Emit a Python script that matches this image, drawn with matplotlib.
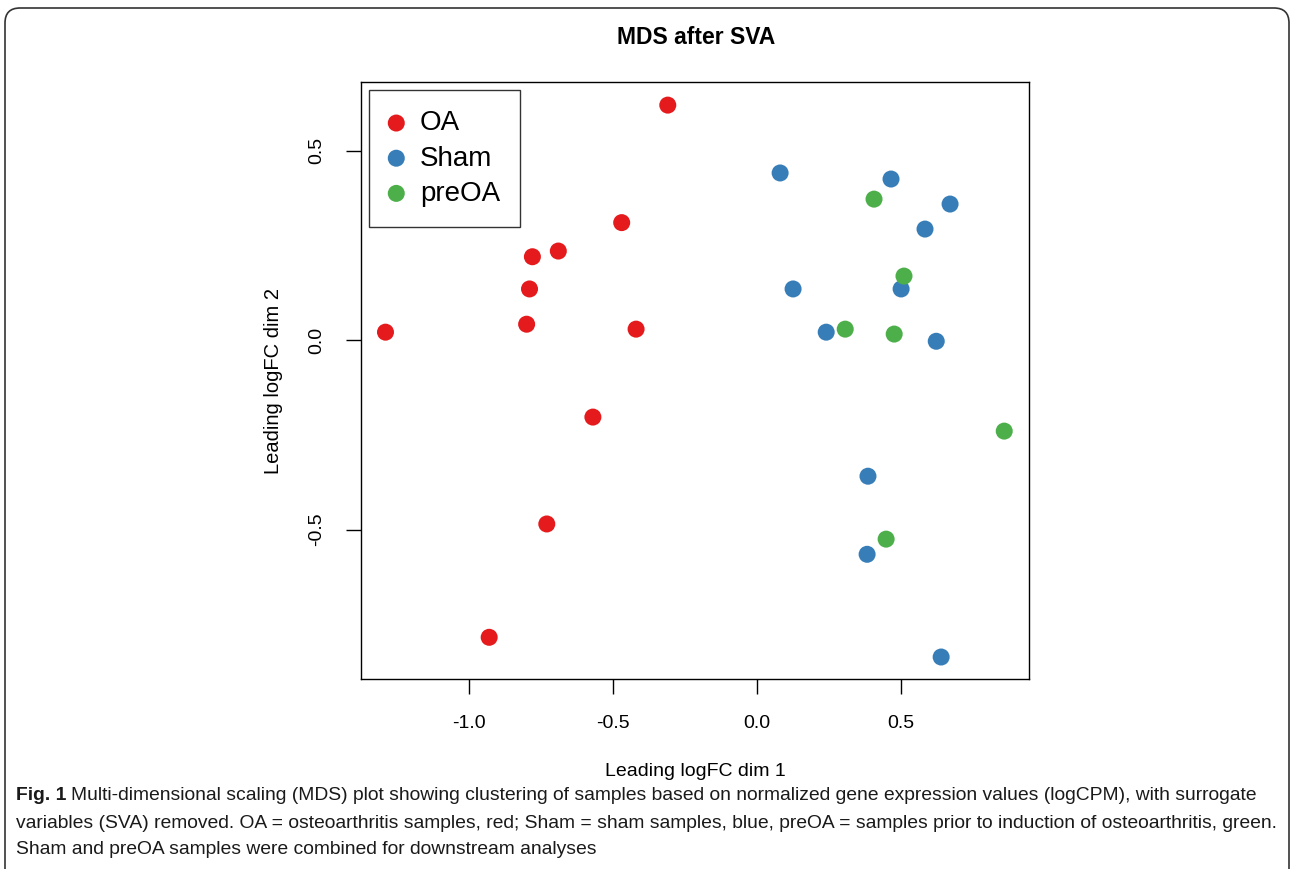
import matplotlib.pyplot as plt
from matplotlib.patches import FancyBboxPatch

# sample coordinates
oa_x = [-0.31, -0.47, -0.69, -0.78, -0.79, -0.80, -1.29, -0.42, -0.57, -0.73, -0.93]
oa_y = [0.62, 0.31, 0.235, 0.22, 0.135, 0.042, 0.021, 0.029, -0.203, -0.485, -0.784]

sham_x = [0.08, 0.465, 0.67, 0.583, 0.125, 0.50, 0.24, 0.622, 0.385, 0.382, 0.639]
sham_y = [0.441, 0.425, 0.359, 0.293, 0.135, 0.135, 0.021, -0.003, -0.359, -0.565, -0.836]

pre_x = [0.406, 0.51, 0.306, 0.476, 0.858, 0.448]
pre_y = [0.372, 0.169, 0.029, 0.016, -0.24, -0.525]

groups = ["OA", "Sham", "preOA"]
colors = ["#E41A1C", "#377EB8", "#4DAF4A"]

xticks = [-1.0, -0.5, 0.0, 0.5]
yticks = [-0.5, 0.0, 0.5]

caption_lines = [
    "Multi-dimensional scaling (MDS) plot showing clustering of samples based on normalized gene expression values (logCPM), with surrogate",
    "variables (SVA) removed. OA = osteoarthritis samples, red; Sham = sham samples, blue, preOA = samples prior to induction of osteoarthritis, green.",
    "Sham and preOA samples were combined for downstream analyses",
]

plt.rcParams['font.family'] = ['Liberation Sans', 'DejaVu Sans']

fig = plt.figure(figsize=(12.9, 8.69), dpi=100)
W, H = 1290, 869

# rounded frame around the figure panel (pixel coordinates)
frame = FancyBboxPatch((5, -20), 1284, H - 8 + 20,
                       boxstyle="round,pad=0,rounding_size=15",
                       transform=None, fill=False,
                       edgecolor="#333333", linewidth=1.2)
fig.patches.append(frame)

ax = fig.add_axes([361 / W, 1 - 679 / H, 668 / W, 597 / H])
ax.scatter(oa_x, oa_y, s=150, color=colors[0], label=groups[0], edgecolors="none")
ax.scatter(sham_x, sham_y, s=150, color=colors[1], label=groups[1], edgecolors="none")
ax.scatter(pre_x, pre_y, s=150, color=colors[2], label=groups[2], edgecolors="none")

ax.set_xlim(-1.375, 0.944)
ax.set_ylim(-0.894, 0.681)
ax.set_xticks(xticks)
ax.set_yticks(yticks)
ax.set_xticklabels([f"{t:.1f}" for t in xticks], fontsize=14)
ax.set_yticklabels([f"{t:.1f}" for t in yticks], fontsize=14, rotation=90, va="center")
ax.tick_params(direction="out", length=11, width=1, pad=15)
for sp in ax.spines.values():
    sp.set_linewidth(1)

ax.set_xlabel("Leading logFC dim 1", fontsize=14, labelpad=22)
ax.set_ylabel("Leading logFC dim 2", fontsize=14.5, labelpad=18)

leg = ax.legend(loc="upper left", fontsize=20, frameon=True, fancybox=False,
                edgecolor="black", handletextpad=0.6, borderpad=0.72,
                labelspacing=0.33, handlelength=0.5, borderaxespad=0.3,
                markerscale=1.0)
leg.get_frame().set_linewidth(1)

fig.text(696 / W, 1 - 37 / H, "MDS after SVA", ha="center", va="center",
         fontsize=16.5, fontweight="bold")

# caption, sized so the first two lines fill the panel width
ys = [795, 823, 850]
fs = 14
cap_kw = dict(va="center", color="#1a1a1a")
t0 = fig.text(16 / W, 1 - ys[0] / H, "Fig. 1", fontsize=fs, fontweight="bold", **cap_kw)
t1 = fig.text(0, 1 - ys[0] / H, caption_lines[0], fontsize=fs, **cap_kw)
t2 = fig.text(16 / W, 1 - ys[1] / H, caption_lines[1], fontsize=fs, **cap_kw)
t3 = fig.text(16 / W, 1 - ys[2] / H, caption_lines[2], fontsize=fs, **cap_kw)
r = fig.canvas.get_renderer()
w2 = t2.get_window_extent(r).width
fs2 = fs * (1283 - 16) / w2
for t in (t0, t1, t2, t3):
    t.set_fontsize(fs2)
bb = t0.get_window_extent(r)
t1.set_x((bb.x1 + 5) / W)

fig.savefig("out.png", dpi=100)
